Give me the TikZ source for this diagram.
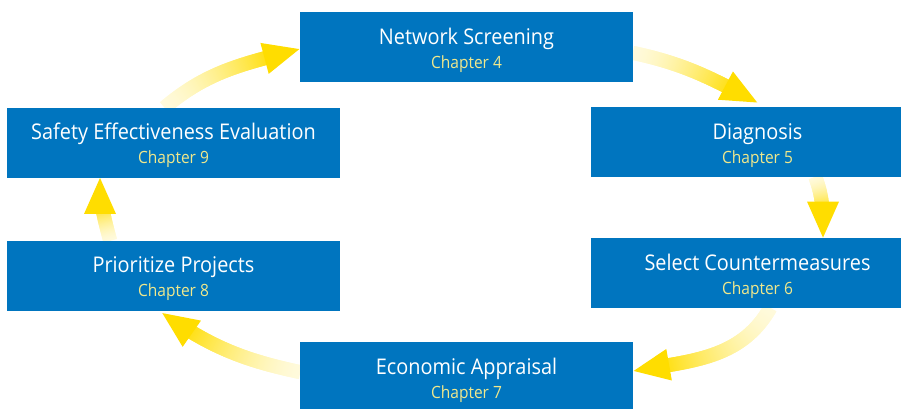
\documentclass[tikz,border=0pt]{standalone}
\usepackage{fontspec}
\setmainfont{Open Sans}[FakeStretch=0.92]
\usepackage{xcolor}
\usetikzlibrary{decorations.markings, backgrounds}

\definecolor{stageblue}{RGB}{0,117,191}
\definecolor{chapteryellow}{RGB}{240,232,140}
\definecolor{arrowgold}{RGB}{255,221,0}
\definecolor{arrowpale}{RGB}{255,250,220}

\newcommand{\stagelabel}[2]{\rule{0pt}{12.6pt}#1\\{\color{chapteryellow}\fontsize{9.6}{12}\selectfont #2}}

\begin{document}
\begin{tikzpicture}[
	box/.style={fill=stageblue, text=white, minimum width=6.66cm, minimum height=1.4cm, inner sep=0pt, align=center, font=\fontsize{12.3}{13.7}\selectfont},
	flow/.style={decorate, decoration={markings,
		mark=between positions 0 and -0.5cm step 0.4pt with {
			\pgfmathsetmacro\flowfrac{min(1,\pgfkeysvalueof{/pgf/decoration/mark info/distance from start}/(\pgfdecoratedpathlength-14))}
			\pgfmathsetmacro\flowpct{100*\flowfrac*sqrt(\flowfrac)}
			\fill[arrowgold!\flowpct!arrowpale] (-0.4pt,-0.14cm) rectangle (0.4pt,0.14cm);},
		mark=at position 1 with {\fill[arrowgold] (0,0) -- (-0.72cm,0.32cm) -- (-0.72cm,-0.32cm) -- cycle;}}}
]
	\useasboundingbox (0,0) rectangle (18.02,-8.16);
	% Boxes
	\node[box] (screening) at (9.33,-0.94) {\stagelabel{Network Screening}{Chapter 4}};
	\node[box] (diagnosis) at (15.15,-2.84) {\stagelabel{Diagnosis}{Chapter 5}};
	\node[box] (counter) at (15.15,-5.46) {\stagelabel{Select Countermeasures}{Chapter 6}};
	\node[box] (appraisal) at (9.33,-7.54) {\stagelabel{Economic Appraisal}{Chapter 7}};
	\node[box] (priority) at (3.47,-5.51) {\stagelabel{Prioritize Projects}{Chapter 8}};
	\node[box] (evaluation) at (3.47,-2.85) {\stagelabel{Safety Effectiveness Evaluation}{Chapter 9}};
	% Arrows
	\begin{pgfonlayer}{background}
	\path[flow] ([yshift=-0.12cm]screening.east) to[out=-12,in=152] ([yshift=0.08cm]diagnosis.north);
	\path[flow] ([xshift=1.16cm]diagnosis.south) to[out=-70,in=90] ([xshift=1.31cm]counter.north);
	\path[flow] ([xshift=0.25cm]counter.south) to[out=-120,in=10] ([yshift=0.12cm]appraisal.east);
	\path[flow] ([yshift=0.1cm]appraisal.west) to[out=168,in=-35] ([xshift=-0.23cm,yshift=-0.04cm]priority.south);
	\path[flow] ([xshift=-1.27cm]priority.north) to[out=105,in=-90] ([xshift=-1.47cm]evaluation.south);
	\path[flow] ([xshift=-0.17cm]evaluation.north) to[out=40,in=195] ([yshift=-0.04cm]screening.west);
	\end{pgfonlayer}
\end{tikzpicture}
\end{document}
